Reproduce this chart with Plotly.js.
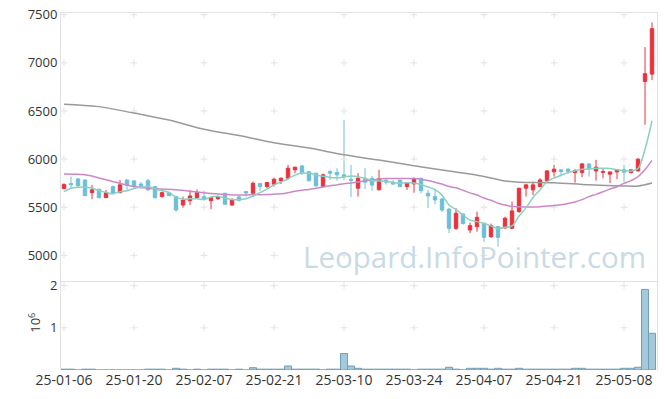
<!DOCTYPE html>
<html><head><meta charset="utf-8">
<script src="https://cdn.plot.ly/plotly-3.0.1.min.js"></script>
<style>html,body{margin:0;padding:0;background:#fff;}#chart{width:665px;height:399px;}</style>
</head><body><div id="chart"></div>
<script>
const dates = ['25-01-06','25-01-07','25-01-08','25-01-09','25-01-10','25-01-13','25-01-14','25-01-15','25-01-16','25-01-17',
'25-01-20','25-01-21','25-01-22','25-01-23','25-01-24','25-01-31','25-02-03','25-02-04','25-02-05','25-02-06',
'25-02-07','25-02-10','25-02-11','25-02-12','25-02-13','25-02-14','25-02-17','25-02-18','25-02-19','25-02-20',
'25-02-21','25-02-24','25-02-25','25-02-26','25-02-27','25-02-28','25-03-04','25-03-05','25-03-06','25-03-07',
'25-03-10','25-03-11','25-03-12','25-03-13','25-03-14','25-03-17','25-03-18','25-03-19','25-03-20','25-03-21',
'25-03-24','25-03-25','25-03-26','25-03-27','25-03-28','25-03-31','25-04-01','25-04-02','25-04-03','25-04-04',
'25-04-07','25-04-08','25-04-09','25-04-10','25-04-11','25-04-14','25-04-15','25-04-16','25-04-17','25-04-18',
'25-04-21','25-04-22','25-04-23','25-04-24','25-04-25','25-04-28','25-04-29','25-04-30','25-05-02','25-05-07',
'25-05-08','25-05-09','25-05-12','25-05-13','25-05-14'];

const open = [5693,5745,5794,5783,5651,5687,5599,5714,5651,5783,
5773,5740,5775,5714,5610,5651,5610,5523,5568,5599,
5610,5568,5589,5645,5523,5607,5662,5645,5745,5714,
5739,5773,5801,5888,5929,5870,5853,5714,5870,5862,
5836,5790,5697,5801,5800,5680,5780,5760,5780,5715,
5742,5801,5645,5610,5585,5480,5280,5430,5263,5298,
5333,5194,5298,5285,5281,5455,5697,5680,5714,5773,
5868,5888,5895,5860,5860,5950,5877,5862,5843,5867,
5888,5860,5877,6806,6883];
const high = [5749,5818,5801,5783,5732,5690,5680,5725,5783,5790,
5780,5765,5795,5720,5662,5660,5620,5610,5680,5685,
5672,5605,5620,5650,5593,5617,5665,5766,5750,5760,
5807,5810,5940,5920,5940,5870,5860,5850,5888,5905,
6408,5940,5853,5905,5825,5888,5800,5780,5790,5760,
5810,5801,5680,5690,5600,5490,5490,5435,5340,5454,
5340,5330,5305,5400,5558,5700,5735,5766,5801,5885,
5940,5890,5905,5895,5957,5955,5992,5905,5870,5890,
5940,5890,6010,7164,7420];
const low = [5687,5693,5708,5614,5583,5595,5595,5635,5645,5680,
5700,5690,5670,5590,5599,5615,5454,5495,5523,5590,
5570,5480,5575,5525,5513,5558,5610,5603,5670,5700,
5714,5740,5790,5853,5835,5765,5715,5705,5783,5776,
5783,5605,5610,5690,5672,5680,5735,5730,5705,5680,
5650,5645,5490,5530,5450,5230,5263,5320,5230,5245,
5140,5180,5090,5275,5275,5440,5610,5627,5708,5765,
5818,5818,5850,5755,5812,5818,5776,5801,5750,5790,
5760,5850,5870,6356,6820];
const close = [5735,5735,5724,5620,5680,5599,5651,5645,5732,5727,
5721,5715,5680,5599,5651,5620,5471,5575,5617,5651,
5583,5599,5610,5531,5575,5572,5648,5749,5714,5756,
5791,5801,5905,5916,5860,5776,5721,5836,5853,5836,
5818,5780,5801,5760,5730,5795,5760,5740,5715,5756,
5791,5672,5617,5575,5471,5280,5437,5330,5308,5395,
5187,5308,5187,5385,5461,5697,5732,5732,5783,5877,
5895,5870,5873,5880,5950,5905,5916,5870,5867,5888,
5864,5888,5999,6887,7355];
const volume = [20000,20000,0,20000,20000,0,0,0,0,0,
0,0,20000,20000,20000,0,40000,20000,0,20000,
0,20000,20000,20000,0,20000,0,55000,20000,20000,
20000,20000,95000,20000,20000,20000,20000,0,20000,20000,
390000,95000,40000,20000,20000,20000,20000,20000,20000,20000,
0,20000,20000,20000,20000,65000,20000,0,40000,40000,
40000,20000,40000,20000,20000,40000,20000,20000,20000,20000,
20000,20000,20000,40000,40000,20000,20000,20000,20000,20000,
40000,40000,65000,1910000,870000];

const ma5Head = [5662,5697,5708,5710];
const ma20HeadIdx = [0,3,6,10,13,16];
const ma20HeadVal = [5846,5836,5785,5714,5692,5680];
const ma60Idx = [0,5,10,15,20,25,30,35,40,45,50,55,60,63,65,70,75,80,82,84];
const ma60Val = [6571,6545,6478,6405,6310,6245,6170,6115,6044,5990,5930,5875,5820,5773,5760,5755,5732,5721,5721,5752];

const priceTicks = [5000,5500,6000,6500,7000,7500];
const volTicks = [1000000,2000000];
const volTickText = ['1','2'];

function ma(n, i){ let s=0; for(let k=i-n+1;k<=i;k++) s+=close[k]; return s/n; }
const ma5x=[], ma5y=[];
ma5Head.forEach((v,i)=>{ma5x.push(dates[i]); ma5y.push(v);});
for(let i=4;i<close.length;i++){ma5x.push(dates[i]); ma5y.push(ma(5,i));}
const ma20x=[], ma20y=[];
ma20HeadIdx.forEach((ix,k)=>{ma20x.push(dates[ix]); ma20y.push(ma20HeadVal[k]);});
for(let i=19;i<close.length;i++){ma20x.push(dates[i]); ma20y.push(ma(20,i));}

const xTickVals = dates.filter((d,i)=>i%10===0);

// light "+" grid marks at tick crossings
const gx=[], gy=[], gx2=[], gy2=[];
xTickVals.forEach(d=>{ priceTicks.forEach(p=>{gx.push(d);gy.push(p);}); volTicks.forEach(v=>{gx2.push(d);gy2.push(v);}); });

const traces = [
 {type:'scatter', mode:'markers', x:gx, y:gy, xaxis:'x', yaxis:'y', hoverinfo:'skip',
  marker:{symbol:'cross-thin', size:5, line:{color:'#e3e3e3', width:1}}},
 {type:'scatter', mode:'markers', x:gx2, y:gy2, xaxis:'x2', yaxis:'y2', hoverinfo:'skip',
  marker:{symbol:'cross-thin', size:5, line:{color:'#e3e3e3', width:1}}},
 {type:'scatter', mode:'lines', x:ma60Idx.map(i=>dates[i]), y:ma60Val, xaxis:'x', yaxis:'y', hoverinfo:'skip',
  line:{color:'#9a9a9a', width:1.5, shape:'spline'}},
 {type:'scatter', mode:'lines', x:ma20x, y:ma20y, xaxis:'x', yaxis:'y', hoverinfo:'skip',
  line:{color:'#cc88c6', width:1.5, shape:'spline'}},
 {type:'scatter', mode:'lines', x:ma5x, y:ma5y, xaxis:'x', yaxis:'y', hoverinfo:'skip',
  line:{color:'#8ccfc0', width:1.5, shape:'spline'}},
 {type:'candlestick', x:dates, open:open, high:high, low:low, close:close, xaxis:'x', yaxis:'y',
  whiskerwidth:0, hoverinfo:'skip',
  increasing:{line:{color:'#e8333d', width:1}, fillcolor:'#e8333d'},
  decreasing:{line:{color:'#6cbfd8', width:1}, fillcolor:'#6cbfd8'}},
 {type:'bar', x:dates, y:volume, xaxis:'x2', yaxis:'y2', hoverinfo:'skip',
  marker:{color:'#a3c9da', line:{color:'#6d9fb8', width:1}}}
];

const xr = [-0.43, 84.71];
const layout = {
 width:665, height:399,
 margin:{l:61, r:8, t:13, b:29},
 paper_bgcolor:'#ffffff', plot_bgcolor:'#ffffff',
 showlegend:false, bargap:0,
 font:{family:'Open Sans, sans-serif', size:13, color:'#333'},
 xaxis:{type:'category', categoryorder:'array', categoryarray:dates, anchor:'y', domain:[0,1], range:xr,
   showgrid:false, zeroline:false, showticklabels:false, ticks:'', showline:true, mirror:true,
   linecolor:'#e2e2e2', linewidth:1, rangeslider:{visible:false}},
 xaxis2:{type:'category', categoryorder:'array', categoryarray:dates, anchor:'y2', domain:[0,1], range:xr,
   matches:'x', showgrid:false, zeroline:false,
   tickmode:'array', tickvals:xTickVals, ticktext:xTickVals, ticks:'', showline:false,
   tickfont:{size:14, color:'#333'}},
 yaxis:{domain:[0.2493,1], range:[4733,7518], tickmode:'array', tickvals:priceTicks, showgrid:false,
   zeroline:false, ticks:'', showline:true, mirror:true, linecolor:'#e2e2e2', linewidth:1,
   tickfont:{size:13, color:'#333'}},
 yaxis2:{domain:[0,0.2493], range:[0,2110000], tickmode:'array', tickvals:volTicks, ticktext:volTickText,
   showgrid:false, zeroline:false, ticks:'', showline:true, mirror:true, linecolor:'#e2e2e2', linewidth:1,
   tickfont:{size:13, color:'#333'}},
 annotations:[
  {text:'Leopard.InfoPointer.com', xref:'paper', yref:'paper', x:0.693, y:0.319, showarrow:false,
   xanchor:'center', yanchor:'middle', font:{size:29.5, color:'#c8dbe5', family:'Open Sans, sans-serif'}},
  {text:'10<sup>6</sup>', xref:'paper', yref:'paper', x:-0.044, y:0.1317, showarrow:false, textangle:-90,
   xanchor:'center', yanchor:'middle', font:{size:13, color:'#333'}}
 ]
};
Plotly.newPlot('chart', traces, layout, {displayModeBar:false, staticPlot:true});
</script></body></html>
